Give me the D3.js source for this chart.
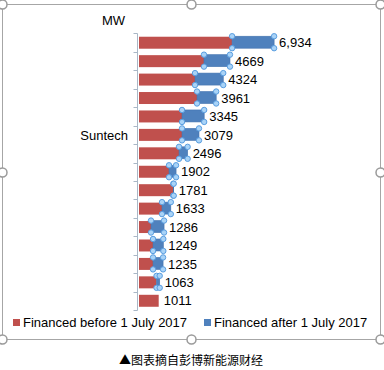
<!DOCTYPE html>
<html>
<head>
<meta charset="utf-8">
<script src="https://cdn.jsdelivr.net/npm/d3@7"></script>
<style>
html,body{margin:0;padding:0;background:#fff;}
svg{display:block;}
</style>
</head>
<body>
<svg id="chart" width="384" height="370"></svg>
<script>
// ---- data ----
const categories = ["", "", "", "", "", "Suntech", "", "", "", "", "", "", "", "", ""];
const before = [4777, 3335, 2875, 2977, 2207, 2207, 2054, 1540, 1760, 1180, 616, 720, 720, 900, 1011];
const after  = [2157, 1334, 1449, 984, 1138, 872, 442, 362, 21, 453, 670, 529, 515, 163, null];
const valueLabels = ["6,934", "4669", "4324", "3961", "3345", "3079", "2496", "1902", "1781", "1633", "1286", "1249", "1235", "1063", "1011"];
const seriesNames = ["Financed before 1 July 2017", "Financed after 1 July 2017"];
const unitLabel = "MW";
const caption = "▲图表摘自彭博新能源财经";

// ---- setup ----
const svg = d3.select("#chart");
const font = "'Liberation Sans', Arial, sans-serif";
const red = "#C0504D", blue = "#4F81BD";

// frame
const frame = {x0: 2, y0: 4, x1: 380, y1: 339};
svg.append("rect").attr("x", frame.x0 + 0.5).attr("y", frame.y0 + 0.5)
  .attr("width", frame.x1 - frame.x0).attr("height", frame.y1 - frame.y0)
  .attr("fill", "#fff").attr("stroke", "#a6a6a6").attr("stroke-width", 1);

const idx = d3.range(categories.length);
const y = d3.scaleBand().domain(idx).range([33.5, 310]).paddingInner(0.35).paddingOuter(0.175);
const x = d3.scaleLinear().domain([0, 7000]).range([139, 275.4]);

// axis line and boundary ticks
const axisColor = "#a9b7c6";
const axisX = 137.5;
svg.append("line").attr("x1", axisX).attr("x2", axisX).attr("y1", 33.5).attr("y2", 310.5)
  .attr("stroke", axisColor).attr("stroke-width", 1);
const half = y.step() * y.paddingInner() / 2;
const bounds = idx.map(i => y(i) - half).concat([y(idx.length - 1) + y.bandwidth() + half]);
svg.selectAll(".tk").data(bounds).enter().append("line")
  .attr("x1", axisX - 4).attr("x2", axisX)
  .attr("y1", d => Math.round(d) + 0.5).attr("y2", d => Math.round(d) + 0.5)
  .attr("stroke", axisColor).attr("stroke-width", 1);

// category labels via d3 axis
const yAxis = d3.axisLeft(y).tickSize(0).tickPadding(0).tickFormat(i => categories[i]);
const ag = svg.append("g").attr("transform", "translate(128,0)").call(yAxis);
ag.select(".domain").remove();
ag.selectAll("text").attr("font-family", font).attr("font-size", 13).attr("fill", "#000").attr("dy", "0.36em");

// red bars
svg.selectAll(".b1").data(idx).enter().append("rect")
  .attr("x", x(0)).attr("y", i => y(i))
  .attr("width", i => x(before[i]) - x(0)).attr("height", y.bandwidth())
  .attr("fill", red);

// blue bars
const withAfter = idx.filter(i => after[i] != null);
svg.selectAll(".b2").data(withAfter).enter().append("rect")
  .attr("x", i => x(before[i])).attr("y", i => y(i) - 0.5)
  .attr("width", i => x(before[i] + after[i]) - x(before[i])).attr("height", y.bandwidth())
  .attr("fill", blue).attr("stroke", "#4474b0").attr("stroke-width", 0.6);

// selection handles on blue bars
const handles = [];
withAfter.forEach(i => {
  const xa = x(before[i]), xb = x(before[i] + after[i]);
  const ya = y(i) - 0.5, yb = y(i) + y.bandwidth() - 0.5;
  handles.push([xa, ya], [xb, ya], [xa, yb], [xb, yb]);
});
svg.selectAll(".hd").data(handles).enter().append("circle")
  .attr("cx", d => d[0]).attr("cy", d => d[1]).attr("r", 2.7)
  .attr("fill", "#a9d3f7").attr("stroke", "#5a9ee0").attr("stroke-width", 1);

// value labels
svg.selectAll(".vl").data(idx).enter().append("text")
  .attr("x", i => x(before[i] + (after[i] || 0)) + 5)
  .attr("y", i => y(i) + y.bandwidth() / 2)
  .attr("dy", "0.36em")
  .attr("font-family", font).attr("font-size", 13).attr("fill", "#000")
  .text(i => valueLabels[i]);

// unit label
svg.append("text").attr("x", 102).attr("y", 25).attr("font-family", font).attr("font-size", 13)
  .attr("fill", "#000").text(unitLabel);

// legend
const legend = [{name: seriesNames[0], color: red, x: 13}, {name: seriesNames[1], color: blue, x: 204}];
legend.forEach(l => {
  svg.append("rect").attr("x", l.x).attr("y", 319).attr("width", 7).attr("height", 7).attr("fill", l.color);
  svg.append("text").attr("x", l.x + 10).attr("y", 327).attr("font-family", font).attr("font-size", 13)
    .attr("fill", "#000").text(l.name);
});

// frame handles
const fh = [[frame.x0, frame.y0], [191, frame.y0], [frame.x1, frame.y0],
            [frame.x0, 172], [frame.x1, 172],
            [frame.x0, frame.y1], [191, frame.y1], [frame.x1, frame.y1]];
svg.selectAll(".fh").data(fh).enter().append("circle")
  .attr("cx", d => d[0] + 0.5).attr("cy", d => d[1] + 0.5).attr("r", 4.5)
  .attr("fill", "#fff").attr("stroke", "#9a9a9a").attr("stroke-width", 1.5);

// caption
svg.append("text").attr("x", 191).attr("y", 365).attr("text-anchor", "middle")
  .attr("font-family", "'Noto Sans CJK SC', sans-serif").attr("font-size", 12).attr("fill", "#000")
  .text(caption);
</script>
</body>
</html>
